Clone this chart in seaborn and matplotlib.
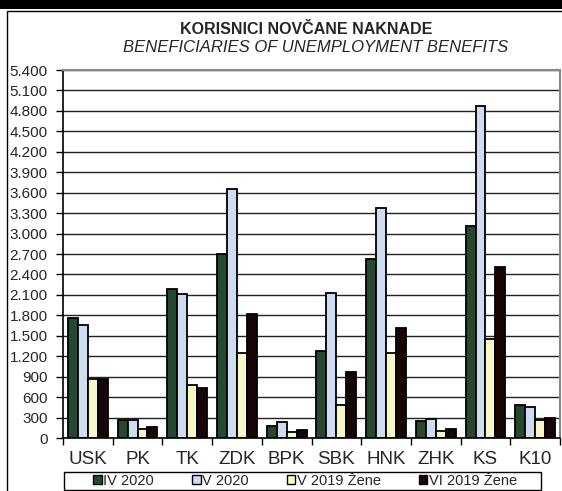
import numpy as np
import pandas as pd
import matplotlib
matplotlib.use("Agg")
import matplotlib.pyplot as plt
import seaborn as sns
from matplotlib.patches import Rectangle
from matplotlib.ticker import FuncFormatter, MultipleLocator, FixedLocator

# ==========================================
# DATA
# ==========================================

regions = ["USK", "PK", "TK", "ZDK", "BPK", "SBK", "HNK", "ZHK", "KS", "K10"]
series_names = ["IV 2020", "V 2020", "V 2019 Žene", "VI 2019 Žene"]

iv_2020 = [1760, 267, 2184, 2694, 173, 1280, 2630, 252, 3109, 481]
v_2020 = [1656, 267, 2107, 3648, 238, 2126, 3369, 286, 4877, 458]
v_2019_zene = [873, 139, 771, 1245, 85, 477, 1245, 106, 1456, 261]
vi_2019_zene = [863, 158, 741, 1823, 120, 962, 1612, 135, 2507, 291]

colors = ["#1f4e2c", "#c9dbf5", "#ffffc0", "#1a0303"]

df = pd.DataFrame({
    "region": np.tile(regions, 4),
    "series": np.repeat(series_names, len(regions)),
    "value": iv_2020 + v_2020 + v_2019_zene + vi_2019_zene,
})

# ==========================================
# PLOT
# ==========================================

sns.set_style("white")
plt.rcParams["font.family"] = ["Liberation Sans", "DejaVu Sans"]

fig = plt.figure(figsize=(5.62, 4.91), dpi=100)
ax = fig.add_axes([63 / 562, 53 / 491, 497 / 562, 368 / 491])

sns.barplot(
    data=df, x="region", y="value", hue="series",
    palette=colors, edgecolor="black", linewidth=1.3,
    width=0.8, gap=0, ax=ax, legend=False,
)

ax.set_ylim(0, 5400)
ax.set_xlim(-0.5, len(regions) - 0.5)
ax.yaxis.set_major_locator(MultipleLocator(300))
ax.yaxis.set_major_formatter(
    FuncFormatter(lambda v, p: f"{int(v):,}".replace(",", "."))
)
ax.yaxis.grid(True, color="#222222", linewidth=1.0)
ax.set_axisbelow(True)
ax.set_xlabel("")
ax.set_ylabel("")

ax.tick_params(axis="y", direction="out", length=5, width=1,
               color="black", labelsize=11, pad=6, left=True)
ax.tick_params(axis="x", which="major", length=0, labelsize=13.5, pad=9)
ax.xaxis.set_minor_locator(FixedLocator(np.arange(-0.5, len(regions), 1)))
ax.tick_params(axis="x", which="minor", direction="out", length=5,
               width=1, color="black", bottom=True)

for side in ["left", "bottom"]:
    ax.spines[side].set_color("black")
    ax.spines[side].set_linewidth(1.2)
for side in ["top", "right"]:
    ax.spines[side].set_color("#888888")
    ax.spines[side].set_linewidth(1.5)

# legend
handles = [Rectangle((0, 0), 1, 1, facecolor=c, edgecolor="black", linewidth=1)
           for c in colors]
leg = fig.legend(
    handles, series_names, ncol=4, loc="center",
    bbox_to_anchor=(305 / 562, 1 - 481 / 491),
    fontsize=10.5, frameon=False, handlelength=0.6,
    handleheight=0.6, handletextpad=0.1, columnspacing=2.6,
    borderpad=0.0,
)
fig.patches.append(Rectangle((64 / 562, 1 - 490 / 491), 477 / 562, 18 / 491,
                             transform=fig.transFigure,
                             facecolor="none", edgecolor="black",
                             linewidth=1))

# title
fig.text(306 / 562, 1 - 30 / 491, "KORISNICI NOVČANE NAKNADE",
         ha="center", va="center", fontsize=11.5, fontweight="bold")
fig.text(316 / 562, 1 - 48 / 491, "BENEFICIARIES OF UNEMPLOYMENT BENEFITS",
         ha="center", va="center", fontsize=12, style="italic")

# outer frame and top band
fig.patches.append(Rectangle((0, 1 - 9 / 491), 1, 9 / 491,
                             transform=fig.transFigure,
                             facecolor="black", edgecolor="none"))
fig.patches.append(Rectangle((7 / 562, -0.05), 1.0, 1 - 11 / 491 + 0.05,
                             transform=fig.transFigure,
                             facecolor="none", edgecolor="black",
                             linewidth=1))

plt.savefig("out.png", dpi=100)
